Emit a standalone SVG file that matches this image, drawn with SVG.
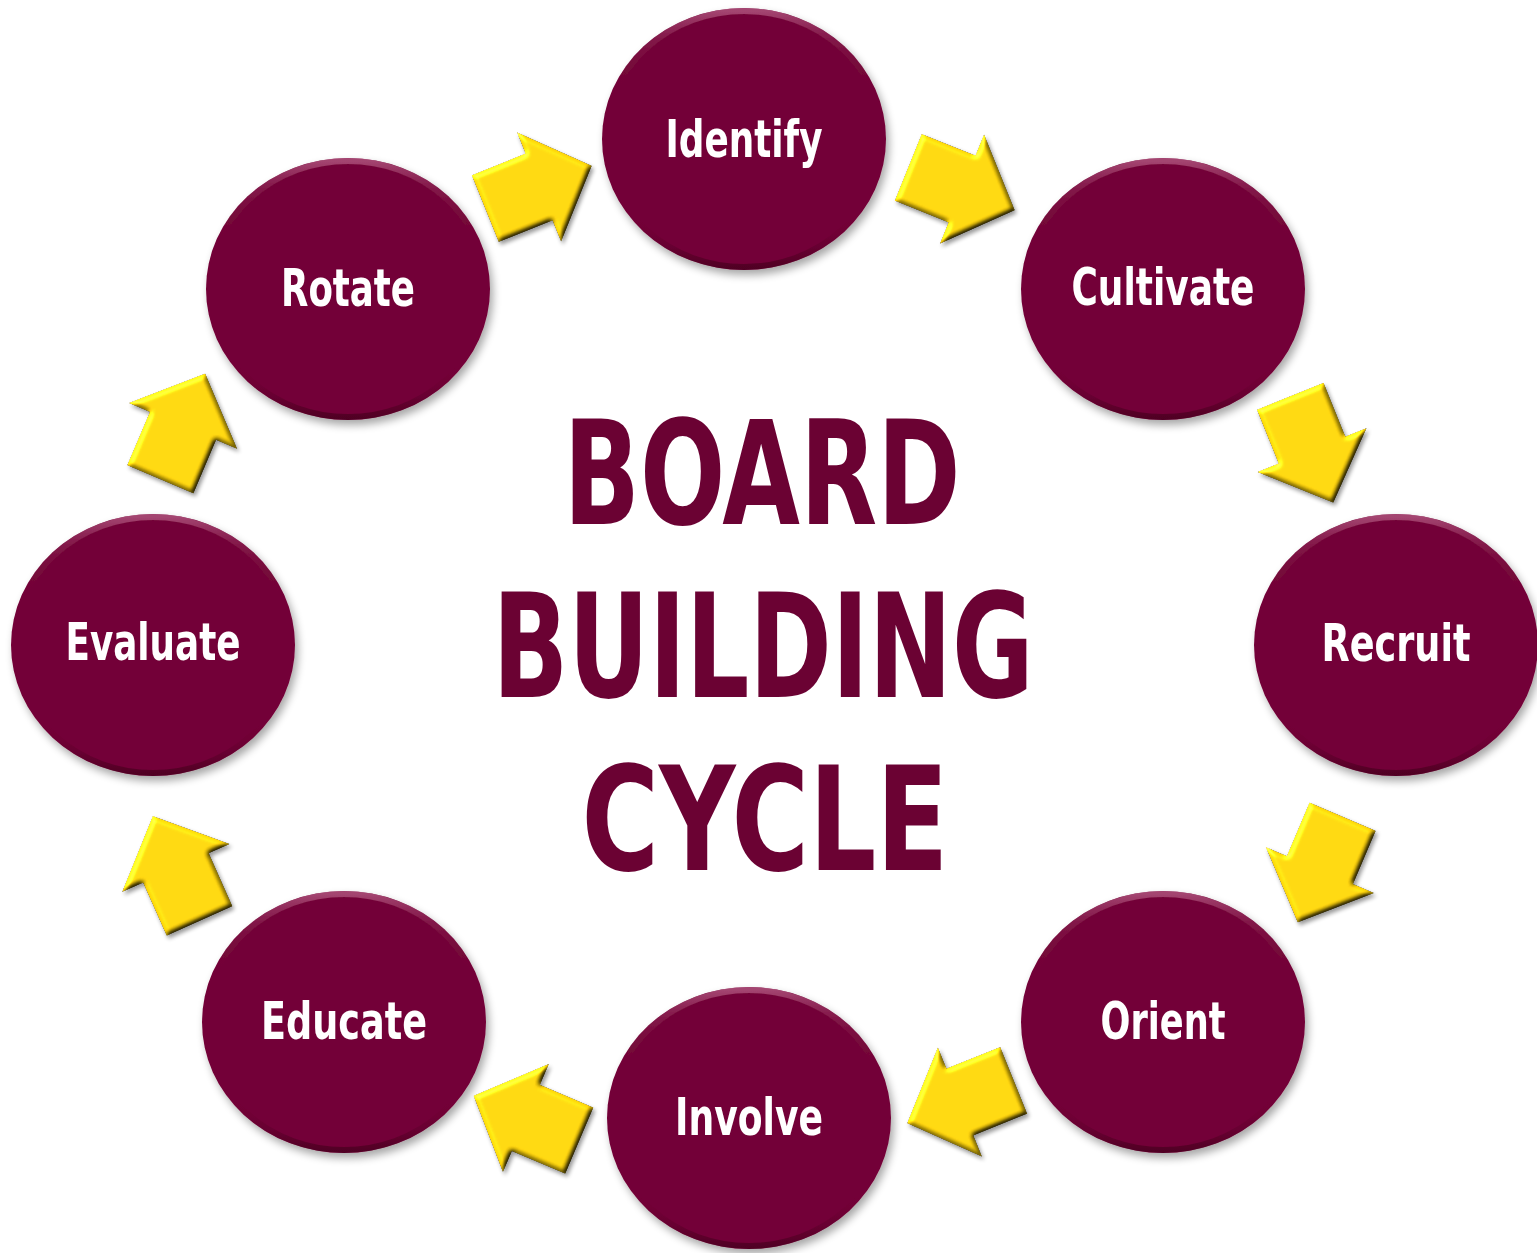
<svg xmlns="http://www.w3.org/2000/svg" width="1537" height="1253" viewBox="0 0 1537 1253">
  <defs>
    <style>
      .disc { fill: #730537; }
      .rim { fill: none; stroke: url(#rimGrad); stroke-width: 6; }
      .label { font-family: "Liberation Sans Narrow", "DejaVu Sans Condensed", "DejaVu Sans", sans-serif; font-stretch: condensed; font-weight: bold; font-size: 51px; fill: #ffffff; text-anchor: middle; }
      .title { font-family: "Liberation Sans Narrow", "DejaVu Sans Condensed", "DejaVu Sans", sans-serif; font-stretch: condensed; font-weight: bold; font-size: 144px; fill: #6b0233; text-anchor: middle; }
      .arrow { fill: #fcd20a; }
    </style>

    <!-- soft drop shadow under the discs -->
    <filter id="discShadow" x="-10%" y="-10%" width="125%" height="125%">
      <feGaussianBlur in="SourceAlpha" stdDeviation="4" result="b"/>
      <feOffset in="b" dx="3" dy="5" result="o"/>
      <feComponentTransfer in="o" result="s">
        <feFuncA type="linear" slope="0.35"/>
      </feComponentTransfer>
      <feMerge>
        <feMergeNode in="s"/>
        <feMergeNode in="SourceGraphic"/>
      </feMerge>
    </filter>

    <!-- light rim at the top of each disc, darker at the bottom -->
    <linearGradient id="rimGrad" x1="0" y1="0" x2="0" y2="1">
      <stop offset="0" stop-color="#b45a84" stop-opacity="0.75"/>
      <stop offset="0.12" stop-color="#9a3464" stop-opacity="0.35"/>
      <stop offset="0.3" stop-color="#730537" stop-opacity="0"/>
      <stop offset="0.8" stop-color="#730537" stop-opacity="0"/>
      <stop offset="1" stop-color="#3a0018" stop-opacity="0.6"/>
    </linearGradient>

    <!-- chamfered bevel + shadow for the block arrows (applied in page space) -->
    <filter id="bevel" x="-25%" y="-25%" width="150%" height="150%" color-interpolation-filters="sRGB">
      <feGaussianBlur in="SourceAlpha" stdDeviation="2.5" result="h"/>
      <feDiffuseLighting in="h" surfaceScale="2.6" diffuseConstant="0.707" lighting-color="#ffffff" result="diff">
        <feDistantLight azimuth="225" elevation="45"/>
      </feDiffuseLighting>
      <feComposite in="SourceGraphic" in2="diff" operator="arithmetic" k1="2" k2="0" k3="0" k4="0" result="shaded"/>
      <feSpecularLighting in="h" surfaceScale="2.6" specularConstant="0.5" specularExponent="25" lighting-color="#ffffff" result="spec">
        <feDistantLight azimuth="225" elevation="45"/>
      </feSpecularLighting>
      <feComposite in="spec" in2="SourceAlpha" operator="in" result="specIn"/>
      <feComposite in="shaded" in2="specIn" operator="arithmetic" k1="0" k2="1" k3="0.5" k4="0" result="lit"/>
      <feComposite in="lit" in2="SourceAlpha" operator="in" result="face"/>
      <feGaussianBlur in="SourceAlpha" stdDeviation="2" result="sb"/>
      <feOffset in="sb" dx="2" dy="3" result="so"/>
      <feComponentTransfer in="so" result="sh">
        <feFuncA type="linear" slope="0.4"/>
      </feComponentTransfer>
      <feMerge>
        <feMergeNode in="sh"/>
        <feMergeNode in="face"/>
      </feMerge>
    </filter>

    <polygon id="blockArrow" points="-58,-36 0,-36 0,-59 57,0 0,59 0,36 -58,36"/>
  </defs>

  <rect width="1537" height="1253" fill="#ffffff"/>

  <!-- centre title -->
  <g id="title">
    <text class="title" x="762" y="524" textLength="397" lengthAdjust="spacingAndGlyphs">BOARD</text>
    <text class="title" x="763" y="697" textLength="541" lengthAdjust="spacingAndGlyphs">BUILDING</text>
    <text class="title" x="765" y="870" textLength="367" lengthAdjust="spacingAndGlyphs">CYCLE</text>
  </g>

  <!-- arrows between the stages, clockwise -->
  <g id="connectors">
    <g filter="url(#bevel)"><use href="#blockArrow" class="arrow" transform="translate(539,187) rotate(-22)"/></g>
    <g filter="url(#bevel)"><use href="#blockArrow" class="arrow" transform="translate(962,189) rotate(22)"/></g>
    <g filter="url(#bevel)"><use href="#blockArrow" class="arrow" transform="translate(1312,450) rotate(68)"/></g>
    <g filter="url(#bevel)"><use href="#blockArrow" class="arrow" transform="translate(1320,870) rotate(113)"/></g>
    <g filter="url(#bevel)"><use href="#blockArrow" class="arrow" transform="translate(960,1102) rotate(158)"/></g>
    <g filter="url(#bevel)"><use href="#blockArrow" class="arrow" transform="translate(526,1118) rotate(203)"/></g>
    <g filter="url(#bevel)"><use href="#blockArrow" class="arrow" transform="translate(176,868) rotate(246)"/></g>
    <g filter="url(#bevel)"><use href="#blockArrow" class="arrow" transform="translate(183,426) rotate(-67)"/></g>
  </g>

  <!-- stage discs -->
  <g id="identify" filter="url(#discShadow)">
    <ellipse class="disc" cx="744" cy="139" rx="142" ry="131"/>
    <ellipse class="rim" cx="744" cy="139" rx="139" ry="128"/>
    <text class="label" x="744" y="157" textLength="157" lengthAdjust="spacingAndGlyphs">Identify</text>
  </g>
  <g id="cultivate" filter="url(#discShadow)">
    <ellipse class="disc" cx="1163" cy="289" rx="142" ry="131"/>
    <ellipse class="rim" cx="1163" cy="289" rx="139" ry="128"/>
    <text class="label" x="1163" y="305" textLength="183" lengthAdjust="spacingAndGlyphs">Cultivate</text>
  </g>
  <g id="recruit" filter="url(#discShadow)">
    <ellipse class="disc" cx="1396" cy="645" rx="142" ry="131"/>
    <ellipse class="rim" cx="1396" cy="645" rx="139" ry="128"/>
    <text class="label" x="1396" y="661" textLength="149" lengthAdjust="spacingAndGlyphs">Recruit</text>
  </g>
  <g id="orient" filter="url(#discShadow)">
    <ellipse class="disc" cx="1163" cy="1022" rx="142" ry="131"/>
    <ellipse class="rim" cx="1163" cy="1022" rx="139" ry="128"/>
    <text class="label" x="1163" y="1039" textLength="125" lengthAdjust="spacingAndGlyphs">Orient</text>
  </g>
  <g id="involve" filter="url(#discShadow)">
    <ellipse class="disc" cx="749" cy="1118" rx="142" ry="131"/>
    <ellipse class="rim" cx="749" cy="1118" rx="139" ry="128"/>
    <text class="label" x="749" y="1135" textLength="148" lengthAdjust="spacingAndGlyphs">Involve</text>
  </g>
  <g id="educate" filter="url(#discShadow)">
    <ellipse class="disc" cx="344" cy="1022" rx="142" ry="131"/>
    <ellipse class="rim" cx="344" cy="1022" rx="139" ry="128"/>
    <text class="label" x="344" y="1039" textLength="166" lengthAdjust="spacingAndGlyphs">Educate</text>
  </g>
  <g id="evaluate" filter="url(#discShadow)">
    <ellipse class="disc" cx="153" cy="645" rx="142" ry="131"/>
    <ellipse class="rim" cx="153" cy="645" rx="139" ry="128"/>
    <text class="label" x="153" y="660" textLength="175" lengthAdjust="spacingAndGlyphs">Evaluate</text>
  </g>
  <g id="rotate" filter="url(#discShadow)">
    <ellipse class="disc" cx="348" cy="289" rx="142" ry="131"/>
    <ellipse class="rim" cx="348" cy="289" rx="139" ry="128"/>
    <text class="label" x="348" y="306" textLength="134" lengthAdjust="spacingAndGlyphs">Rotate</text>
  </g>
</svg>
